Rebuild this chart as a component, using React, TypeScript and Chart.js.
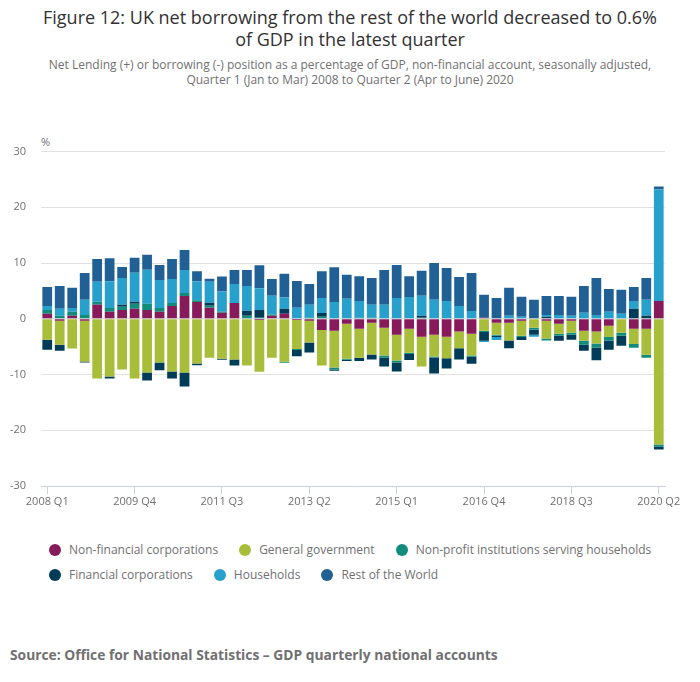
import React, { useEffect, useRef } from "react";
import { Chart, registerables, ChartConfiguration } from "chart.js";

Chart.register(...registerables);

// quarters, 2008 Q1 .. 2020 Q2
const quarters = [
  "2008 Q1", "2008 Q2", "2008 Q3", "2008 Q4",
  "2009 Q1", "2009 Q2", "2009 Q3", "2009 Q4",
  "2010 Q1", "2010 Q2", "2010 Q3", "2010 Q4",
  "2011 Q1", "2011 Q2", "2011 Q3", "2011 Q4",
  "2012 Q1", "2012 Q2", "2012 Q3", "2012 Q4",
  "2013 Q1", "2013 Q2", "2013 Q3", "2013 Q4",
  "2014 Q1", "2014 Q2", "2014 Q3", "2014 Q4",
  "2015 Q1", "2015 Q2", "2015 Q3", "2015 Q4",
  "2016 Q1", "2016 Q2", "2016 Q3", "2016 Q4",
  "2017 Q1", "2017 Q2", "2017 Q3", "2017 Q4",
  "2018 Q1", "2018 Q2", "2018 Q3", "2018 Q4",
  "2019 Q1", "2019 Q2", "2019 Q3", "2019 Q4",
  "2020 Q1", "2020 Q2",
];

// labels shown on the x axis (every 7th quarter)
const shownTicks = ["2008 Q1", "2009 Q4", "2011 Q3", "2013 Q2", "2015 Q1", "2016 Q4", "2018 Q3", "2020 Q2"];
const yTicks = [-30, -20, -10, 0, 10, 20, 30];

// % of GDP
const nonFinancialCorps = [
  0.9, -0.35, 0.55, -0.35, 2.5, 1.25, 1.6, 1.8, 1.6, 1.25, 2.3, 4.1,
  3.0, 2.0, 1.1, 2.85, 0, -0.2, 0.55, 0.9, -0.2, -0.35, -2.0, -2.15,
  -0.9, -1.8, -0.7, -1.6, -2.85, -1.8, -3.2, -2.85, -3.2, -2.3, -2.7, 0.2,
  -0.7, -0.7, -0.35, 0, -0.35, -0.9, -0.35, -2.15, -2.3, -1.25, 0, -1.8,
  -1.8, 3.2,
];
const generalGovernment = [
  -3.75, -4.3, -5.35, -7.3, -10.7, -10.35, -9.1, -10.7, -9.65, -7.85, -9.45, -9.65,
  -8.0, -7.0, -7.15, -7.3, -8.4, -9.3, -7.0, -7.7, -5.2, -3.9, -6.4, -6.6,
  -6.25, -5.2, -5.7, -5.0, -4.65, -4.3, -5.35, -3.9, -3.9, -3.0, -3.9, -2.15,
  -2.15, -3.2, -2.7, -1.6, -3.2, -1.8, -2.15, -1.8, -2.15, -2.0, -2.5, -2.7,
  -4.65, -22.55,
];
const npish = [
  0.7, 0.55, 0.7, 0.7, 0.55, 0.7, 0.55, 0.9, 1.1, 0.7, 0.55, 0.55,
  0.35, 0.35, 0.2, 0, 0.55, 0.2, 0.2, -0.2, -0.2, 0.2, 0.35, -0.35,
  -0.2, 0.2, 0.2, -0.35, -0.35, -0.2, 0.2, -0.2, 0, 0, -0.2, -0.2,
  -0.2, 0, -0.2, -0.35, -0.35, -0.35, -0.35, -0.7, -0.7, -0.7, -0.55, -0.7,
  -0.55, -0.35,
];
const financialCorps = [
  -1.8, -1.1, 0, -0.2, 0, -0.35, 0.35, 0.35, -1.4, -1.4, -1.25, -2.5,
  -0.35, 0.55, -0.2, -1.1, 0.9, 1.4, 0, 0.9, -1.1, -1.8, 0.7, -0.2,
  -0.2, -0.55, -0.9, -1.6, -1.6, -1.1, 0.35, -2.85, -1.8, -2.0, -1.25, -1.6,
  -0.2, -1.4, -0.55, -0.9, 0.35, -0.9, -0.9, -1.1, -2.3, -1.6, -1.8, 1.8,
  0.55, -0.55,
];
const households = [
  0.7, 1.25, 0.7, 2.7, 3.6, 4.8, 4.8, 5.2, 6.1, 5.0, 4.3, 4.1,
  3.4, 3.75, 3.6, 3.4, 4.45, 3.9, 3.4, 2.0, 2.0, 2.3, 2.7, 3.0,
  3.6, 3.0, 2.3, 2.5, 3.75, 3.9, 3.6, 3.4, 3.2, 2.3, 1.4, -0.2,
  -0.55, 0.55, 0.35, -0.35, 0.35, 0.7, 0.55, 1.1, 0.7, 1.25, 0.9, 1.4,
  2.85, 20.0,
];
const restOfWorld = [
  3.4, 4.1, 3.6, 4.8, 4.1, 4.1, 2.0, 2.7, 2.7, 2.7, 3.6, 3.6,
  1.8, 0.55, 2.7, 2.5, 2.85, 4.1, 3.0, 4.3, 4.8, 3.75, 4.8, 6.25,
  4.3, 4.45, 4.8, 6.25, 5.9, 3.75, 4.45, 6.6, 5.9, 5.2, 6.8, 4.1,
  3.75, 5.0, 3.6, 3.4, 3.4, 3.4, 3.4, 4.8, 6.6, 4.1, 4.3, 2.5,
  3.9, 0.55,
];

const series = [
  { name: "Non-financial corporations", data: nonFinancialCorps, color: "#871A5B" },
  { name: "General government", data: generalGovernment, color: "#A8BD3A" },
  { name: "Non-profit institutions serving households", data: npish, color: "#118C7B" },
  { name: "Financial corporations", data: financialCorps, color: "#003C57" },
  { name: "Households", data: households, color: "#27A0CC" },
  { name: "Rest of the World", data: restOfWorld, color: "#206095" },
];

const FONT = "'Open Sans', 'Noto Sans', sans-serif";
const GREY = "#707071";

const App: React.FC = () => {
  const canvasRef = useRef<HTMLCanvasElement | null>(null);
  const chartRef = useRef<Chart<"bar"> | null>(null);

  useEffect(() => {
    const canvas = canvasRef.current;
    if (!canvas) return;

    const config: ChartConfiguration<"bar"> = {
      type: "bar",
      data: {
        labels: quarters,
        datasets: series.map((s) => ({
          label: s.name,
          data: s.data,
          backgroundColor: s.color,
          borderWidth: 0,
          barPercentage: 0.78,
          categoryPercentage: 1,
        })),
      },
      options: {
        animation: false,
        responsive: true,
        maintainAspectRatio: false,
        layout: { padding: { top: 20, right: 35, left: 0, bottom: 0 } },
        plugins: {
          legend: { display: false },
          tooltip: { enabled: false },
        },
        scales: {
          x: {
            stacked: true,
            afterFit: (s) => {
              s.height = 30;
            },
            border: { display: true, color: "#c6d2e5", width: 1 },
            grid: {
              offset: false,
              drawOnChartArea: false,
              drawTicks: true,
              tickLength: 8,
              color: "#c6d2e5",
            },
            ticks: {
              autoSkip: false,
              maxRotation: 0,
              padding: 1,
              color: GREY,
              font: { family: FONT, size: 11 },
              callback: (_v, i) =>
                shownTicks.includes(quarters[i]) ? quarters[i] : null,
            },
          },
          y: {
            stacked: true,
            min: yTicks[0],
            max: yTicks[yTicks.length - 1],
            afterFit: (s) => {
              s.width = 41;
            },
            afterBuildTicks: (s) => {
              s.ticks = yTicks.map((v) => ({ value: v }));
            },
            border: { display: false },
            grid: {
              drawTicks: false,
              color: (ctx) =>
                ctx.tick && ctx.tick.value === yTicks[0] ? "rgba(0,0,0,0)" : "#e2e2e2",
            },
            ticks: {
              padding: 15,
              color: GREY,
              font: { family: FONT, size: 11 },
            },
          },
        },
      },
    };

    chartRef.current = new Chart(canvas, config);

    return () => {
      if (chartRef.current) {
        chartRef.current.destroy();
        chartRef.current = null;
      }
    };
  }, []);

  return (
    <div
      style={{
        position: "fixed",
        left: 0,
        top: 0,
        width: 700,
        height: 682,
        background: "#fff",
        fontFamily: FONT,
      }}
    >
      <div
        style={{
          position: "absolute",
          top: 6,
          left: 0,
          width: 700,
          textAlign: "center",
          fontSize: 18,
          lineHeight: "22px",
          color: "#323132",
          whiteSpace: "nowrap",
        }}
      >
        Figure 12: UK net borrowing from the rest of the world decreased to 0.6%
        <br />
        of GDP in the latest quarter
      </div>
      <div
        style={{
          position: "absolute",
          top: 57,
          left: 0,
          width: 700,
          textAlign: "center",
          fontSize: 12,
          lineHeight: "15px",
          color: GREY,
          whiteSpace: "nowrap",
        }}
      >
        Net Lending (+) or borrowing (-) position as a percentage of GDP, non-financial account, seasonally adjusted,
        <br />
        Quarter 1 (Jan to Mar) 2008 to Quarter 2 (Apr to June) 2020
      </div>
      <div
        style={{
          position: "absolute",
          top: 135,
          left: 41,
          fontSize: 11,
          lineHeight: "14px",
          color: GREY,
        }}
      >
        %
      </div>
      <div style={{ position: "absolute", top: 130, left: 0, width: 700, height: 386 }}>
        <canvas ref={canvasRef} />
      </div>
      <div
        style={{
          position: "absolute",
          top: 537,
          left: 49,
          width: 640,
          display: "flex",
          flexWrap: "wrap",
          columnGap: 21,
          fontSize: 12,
          color: GREY,
        }}
      >
        {series.map((s) => (
          <div key={s.name} style={{ display: "flex", alignItems: "center", height: 25 }}>
            <span
              style={{
                display: "inline-block",
                width: 12,
                height: 12,
                borderRadius: "50%",
                background: s.color,
                marginRight: 8,
              }}
            />
            <span style={{ whiteSpace: "nowrap" }}>{s.name}</span>
          </div>
        ))}
      </div>
      <div
        style={{
          position: "absolute",
          top: 645,
          left: 10,
          fontSize: 13.8,
          fontWeight: 700,
          lineHeight: "20px",
          color: GREY,
          whiteSpace: "nowrap",
        }}
      >
        Source: Office for National Statistics – GDP quarterly national accounts
      </div>
    </div>
  );
};

export default App;
